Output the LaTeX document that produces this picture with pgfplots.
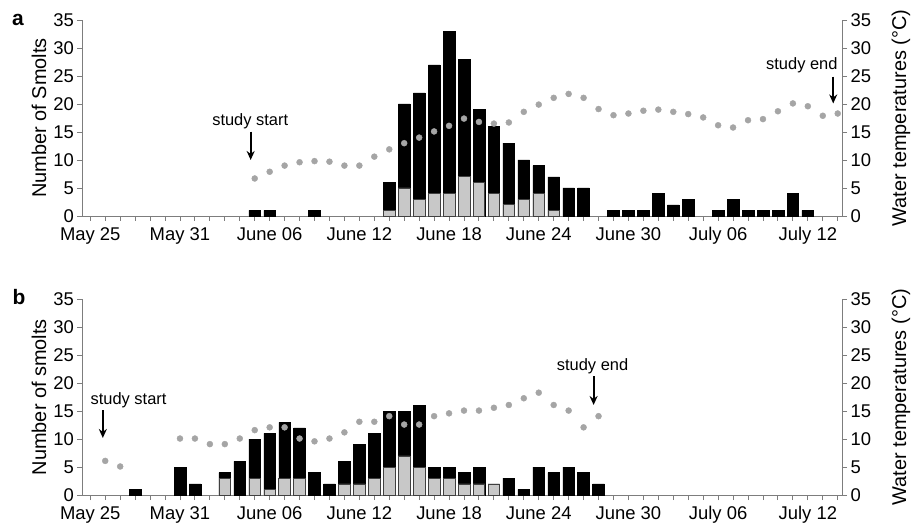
\documentclass[border=0pt]{standalone}
\usepackage{fontspec}
\setmainfont{Liberation Sans}
\usepackage{pgfplots}
\pgfplotsset{compat=1.18}
\usetikzlibrary{arrows.meta}

\definecolor{axgray}{RGB}{125,125,125}
\definecolor{dotgray}{RGB}{165,165,165}
\definecolor{bargray}{RGB}{200,200,200}

\pgfplotsset{
  smoltbase/.style={
    scale only axis, width=759.7bp,
    xmin=-0.52, xmax=50.3, ymin=0, ymax=35,
    axis line style={axgray, line width=0.9bp},
    every tick/.style={axgray, line width=0.9bp},
    tick align=outside,
    major tick length=5bp, minor tick length=5bp,
    ytick={0,5,...,35},
    /pgf/number format/assume math mode=true,
    tick label style={font=\fontsize{18.5}{20}\selectfont, text=black},
    label style={font=\fontsize{20}{22}\selectfont},
    clip=false,
  },
  leftax/.style={smoltbase,
    axis y line*=left, axis x line*=bottom,
    xtick={0,6,...,48},
    xticklabels={May 25,May 31,June 06,June 12,June 18,June 24,June 30,July 06,July 12},
    minor xtick={0,...,50},
    xticklabel style={yshift=-3bp},
    ylabel style={at={(axis description cs:-0.0573,0.5)}, anchor=center},
  },
  rightax/.style={smoltbase,
    axis y line*=right, axis x line=none, xtick=\empty,
    ylabel={Water temperatures (°C)},
    ylabel style={at={(axis description cs:1.0774,0.5)}, anchor=center},
  },
  blackbar/.style={ybar, bar width=11.7bp, bar shift=0pt, fill=black, draw=black, line width=0.5bp},
  graybar/.style={ybar, bar width=11.7bp, bar shift=0pt, fill=bargray, draw=black!75, line width=0.6bp},
  tempdot/.style={only marks, mark=*, mark size=3bp, mark options={draw=dotgray, fill=dotgray}},
}

\newcommand\notefont{\fontsize{16.5}{18}\selectfont}
\tikzset{studyarrow/.style={-{Stealth[length=9bp,width=8bp]}, line width=2bp}}

\begin{document}
\begin{tikzpicture}
\path[use as bounding box] (0bp,0bp) rectangle (915bp,525bp);

% ---------- panel a ----------
\begin{axis}[leftax, at={(82.5bp,309bp)}, anchor=south west, height=196bp,
  ylabel={Number of Smolts}]
% all smolts per day (day 0 = May 25)
\addplot[blackbar] coordinates {
  (11,1) (12,1) (15,1) (20,6) (21,20) (22,22) (23,27) (24,33) (25,28)
  (26,19) (27,16) (28,13) (29,10) (30,9) (31,7) (32,5) (33,5)
  (35,1) (36,1) (37,1) (38,4) (39,2) (40,3) (42,1) (43,3) (44,1)
  (45,1) (46,1) (47,4) (48,1)
};
% grey part of the bars
\addplot[graybar] coordinates {
  (20,1) (21,5) (22,3) (23,4) (24,4) (25,7) (26,6) (27,4) (28,2)
  (29,3) (30,4) (31,1)
};
\draw[studyarrow] (axis cs:10.73,15.05) -- (axis cs:10.73,10);
\node[font=\notefont] at (axis cs:10.7,17.0) {study start};
\draw[studyarrow] (axis cs:49.7,24.9) -- (axis cs:49.7,20.1);
\node[font=\notefont] at (axis cs:47.6,27.0) {study end};
\end{axis}
\begin{axis}[rightax, at={(82.5bp,309bp)}, anchor=south west, height=196bp]
\addplot[tempdot] coordinates {
  (11,6.7) (12,7.9) (13,9.0) (14,9.6) (15,9.8) (16,9.7) (17,9.0) (18,9.0)
  (19,10.6) (20,11.9) (21,13.0) (22,14.0) (23,15.1) (24,16.1) (25,17.4)
  (26,16.8) (27,16.5) (28,16.7) (29,18.6) (30,19.9) (31,21.1) (32,21.8)
  (33,21.1) (34,19.1) (35,18.0) (36,18.3) (37,18.8) (38,19.0) (39,18.6)
  (40,18.2) (41,17.6) (42,16.2) (43,15.8) (44,17.1) (45,17.3) (46,18.7)
  (47,20.1) (48,19.6) (49,17.9) (50,18.3)
};
\end{axis}

% ---------- panel b ----------
\begin{axis}[leftax, at={(82.5bp,30bp)}, anchor=south west, height=195.7bp,
  ylabel={Number of smolts}]
\addplot[blackbar] coordinates {
  (3,1) (6,5) (7,2) (9,4) (10,6) (11,10) (12,11) (13,13) (14,12) (15,4)
  (16,2) (17,6) (18,9) (19,11) (20,15) (21,15) (22,16) (23,5) (24,5)
  (25,4) (26,5) (27,2) (28,3) (29,1) (30,5) (31,4) (32,5) (33,4) (34,2)
};
\addplot[graybar] coordinates {
  (9,3) (11,3) (12,1) (13,3) (14,3) (17,2) (18,2) (19,3) (20,5) (21,7)
  (22,5) (23,3) (24,3) (25,2) (26,2) (27,2)
};
\draw[studyarrow] (axis cs:0.84,15.2) -- (axis cs:0.84,10.2);
\node[font=\notefont] at (axis cs:2.56,17.0) {study start};
\draw[studyarrow] (axis cs:33.67,21.2) -- (axis cs:33.67,16.1);
\node[font=\notefont] at (axis cs:33.6,23.1) {study end};
\end{axis}
\begin{axis}[rightax, at={(82.5bp,30bp)}, anchor=south west, height=195.7bp]
\addplot[tempdot] coordinates {
  (1,6.1) (2,5.1) (6,10.1) (7,10.1) (8,9.1) (9,9.1) (10,10.1) (11,11.6)
  (12,12.1) (13,12.1) (14,10.1) (15,9.6) (16,10.1) (17,11.2) (18,13.1)
  (19,13.1) (20,14.1) (21,12.6) (22,12.6) (23,14.1) (24,14.6) (25,15.1)
  (26,15.1) (27,15.6) (28,16.1) (29,17.3) (30,18.3) (31,16.1) (32,15.1)
  (33,12.1) (34,14.1)
};
\end{axis}

% panel letters
\node[font=\bfseries\fontsize{21}{22}\selectfont] at (18bp,505bp) {a};
\node[font=\bfseries\fontsize{21}{22}\selectfont] at (19bp,227.5bp) {b};
\end{tikzpicture}
\end{document}
